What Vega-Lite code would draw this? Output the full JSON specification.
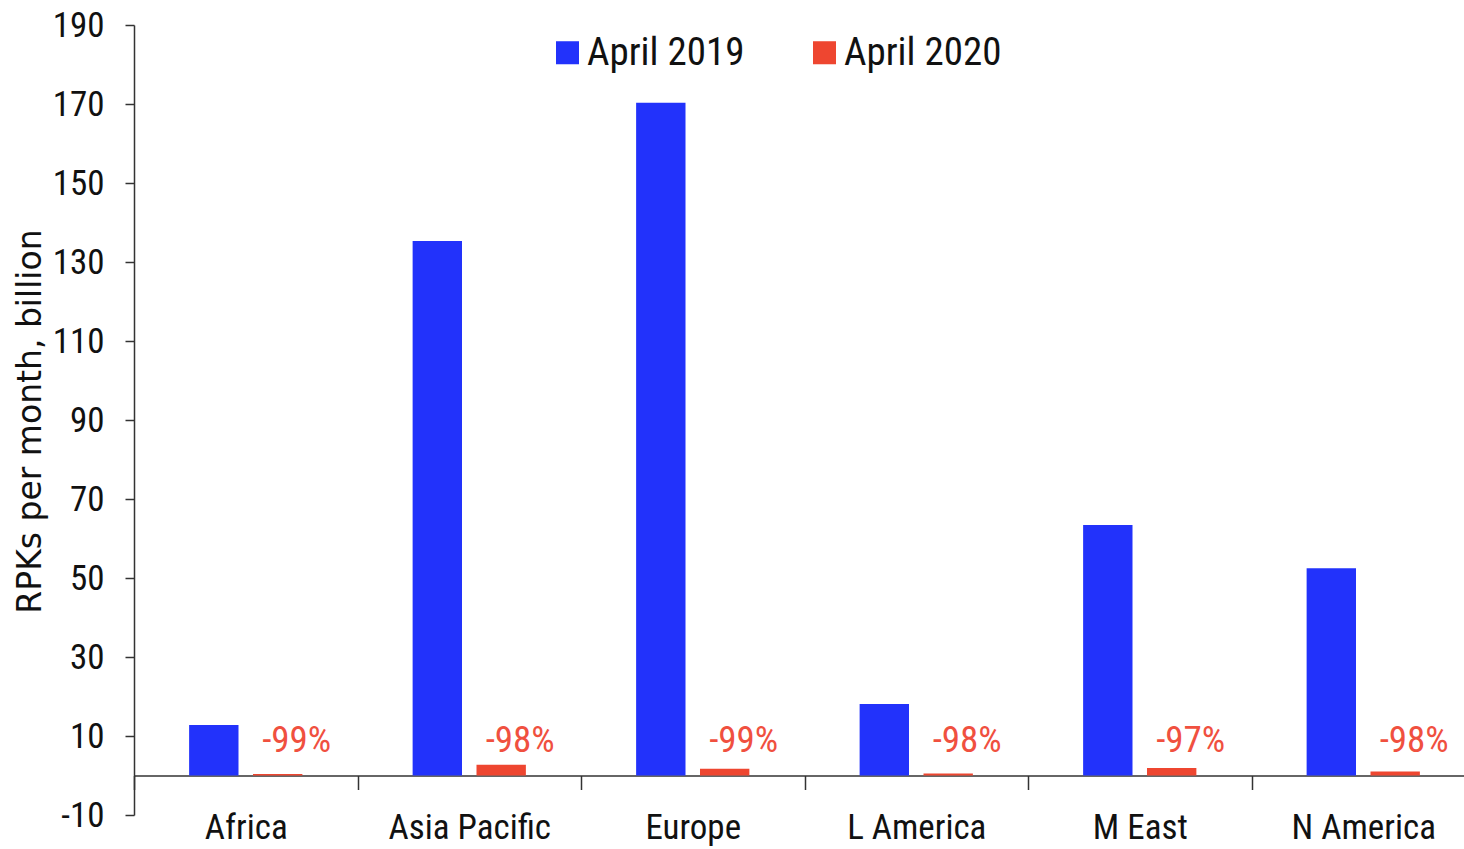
{
  "$schema": "https://vega.github.io/schema/vega-lite/v6.json",
  "width": 1341,
  "height": 790,
  "autosize": "none",
  "padding": {"left": 134, "top": 25, "right": 0, "bottom": 34},
  "background": "white",
  "config": {"view": {"stroke": null}},
  "data": {
    "values": [
      {"region": "Africa", "period": "April 2019", "value": 12.8, "change": ""},
      {"region": "Africa", "period": "April 2020", "value": 0.4, "change": "-99%"},
      {"region": "Asia Pacific", "period": "April 2019", "value": 135.3, "change": ""},
      {"region": "Asia Pacific", "period": "April 2020", "value": 2.7, "change": "-98%"},
      {"region": "Europe", "period": "April 2019", "value": 170.3, "change": ""},
      {"region": "Europe", "period": "April 2020", "value": 1.7, "change": "-99%"},
      {"region": "L America", "period": "April 2019", "value": 18.1, "change": ""},
      {"region": "L America", "period": "April 2020", "value": 0.5, "change": "-98%"},
      {"region": "M East", "period": "April 2019", "value": 63.4, "change": ""},
      {"region": "M East", "period": "April 2020", "value": 1.9, "change": "-97%"},
      {"region": "N America", "period": "April 2019", "value": 52.5, "change": ""},
      {"region": "N America", "period": "April 2020", "value": 1.0, "change": "-98%"}
    ]
  },
  "encoding": {
    "x": {
      "field": "region",
      "type": "nominal",
      "sort": null,
      "scale": {"paddingInner": 0, "paddingOuter": 0},
      "axis": {
        "title": null,
        "labelAngle": 0,
        "labelFont": "Liberation Sans Narrow, Roboto Condensed, DejaVu Sans Condensed, sans-serif",
        "labelFontSize": 35,
        "labelColor": "#111111",
        "labelPadding": 21,
        "tickBand": "extent",
        "tickSize": 14,
        "tickColor": "#333333",
        "tickWidth": 1.5,
        "domainColor": "#333333",
        "domainWidth": 1.5,
        "offset": -39.5,
        "grid": false
      }
    },
    "xOffset": {
      "field": "period",
      "type": "nominal",
      "scale": {"paddingInner": 0.227, "paddingOuter": 0.863}
    }
  },
  "layer": [
    {
      "mark": {"type": "bar"},
      "encoding": {
        "y": {
          "field": "value",
          "type": "quantitative",
          "scale": {"domain": [-10, 190], "nice": false, "zero": false},
          "axis": {
            "title": "RPKs per month, billion",
            "titleFont": "DejaVu Sans, sans-serif",
            "titleFontSize": 33,
            "titleFontWeight": "normal",
            "titleColor": "#111111",
            "titleAngle": -90,
            "titleAlign": "center",
            "titleBaseline": "middle",
            "titleX": -104,
            "titleY": 396,
            "values": [-10, 10, 30, 50, 70, 90, 110, 130, 150, 170, 190],
            "labelExpr": "replace(datum.label, '\u2212', '-')",
            "labelFont": "Liberation Sans Narrow, Roboto Condensed, DejaVu Sans Condensed, sans-serif",
            "labelFontSize": 35,
            "labelColor": "#111111",
            "labelPadding": 21,
            "tickSize": 9,
            "tickColor": "#333333",
            "tickWidth": 1.5,
            "domainColor": "#333333",
            "domainWidth": 1.5,
            "grid": false
          }
        },
        "color": {
          "field": "period",
          "type": "nominal",
          "scale": {"domain": ["April 2019", "April 2020"], "range": ["#2232FB", "#EE4630"]},
          "legend": {
            "title": null,
            "orient": "none",
            "direction": "horizontal",
            "columns": 2,
            "legendX": 414,
            "legendY": 8,
            "padding": 0,
            "symbolType": "square",
            "symbolSize": 530,
            "symbolStrokeWidth": 0,
            "labelFont": "Liberation Sans Narrow, Roboto Condensed, DejaVu Sans Condensed, sans-serif",
            "labelFontSize": 39,
            "labelColor": "#111111",
            "labelOffset": 0,
            "columnPadding": 60,
            "labelLimit": 400
          }
        }
      }
    },
    {
      "transform": [{"filter": "datum.period === 'April 2020'"}],
      "mark": {
        "type": "text",
        "align": "center",
        "baseline": "alphabetic",
        "dx": 19,
        "dy": -24,
        "font": "Liberation Sans Narrow, Roboto Condensed, DejaVu Sans Condensed, sans-serif",
        "fontSize": 37,
        "color": "#F0503F"
      },
      "encoding": {
        "y": {"datum": 0},
        "text": {"field": "change"}
      }
    }
  ]
}
